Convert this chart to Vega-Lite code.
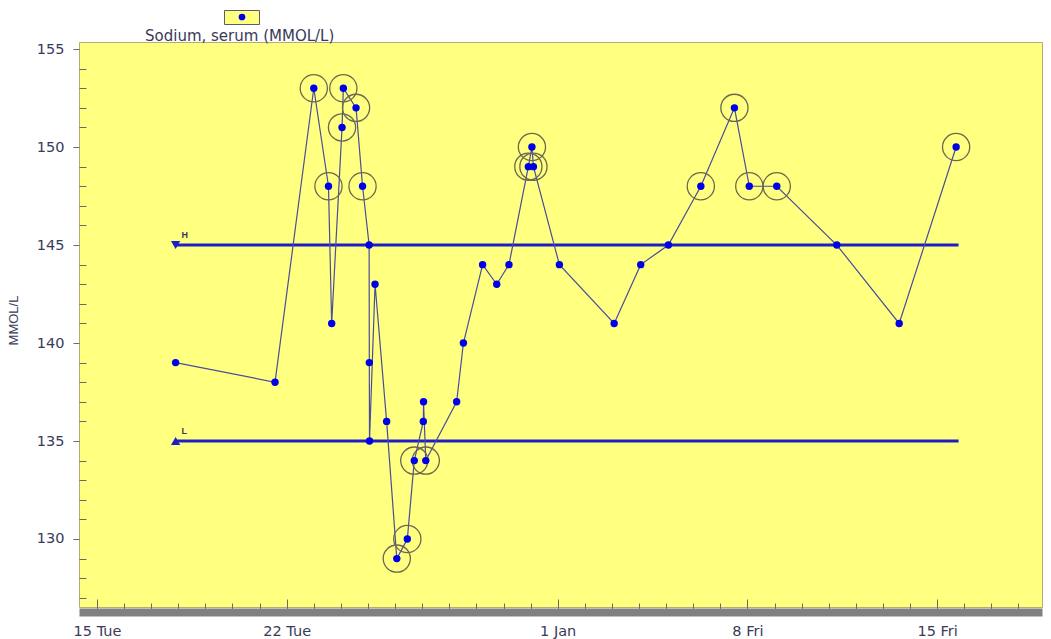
{
  "$schema": "https://vega.github.io/schema/vega-lite/v6.json",
  "autosize": {"type": "none"},
  "padding": {"left": 79, "top": 42, "right": 9, "bottom": 32},
  "width": 963,
  "height": 565,
  "background": "#ffffff",
  "config": {
    "font": "DejaVu Sans",
    "view": {"fill": "#ffff80", "stroke": "#b4ac74", "strokeWidth": 1}
  },
  "title": {
    "text": "Sodium, serum (MMOL/L)",
    "anchor": "start",
    "frame": "group",
    "dx": 66,
    "dy": 37,
    "offset": 3,
    "fontSize": 15,
    "fontWeight": "normal",
    "color": "#3a3a58",
    "font": "DejaVu Sans"
  },
  "datasets": {
    "sodium": [
      {"seq": 1, "t": "2009-12-17T21:36", "value": 139, "test": "Sodium, serum"},
      {"seq": 2, "t": "2009-12-21T13:40", "value": 138, "test": "Sodium, serum"},
      {"seq": 3, "t": "2009-12-23T00:00", "value": 153, "test": "Sodium, serum"},
      {"seq": 4, "t": "2009-12-23T13:00", "value": 148, "test": "Sodium, serum"},
      {"seq": 5, "t": "2009-12-23T15:50", "value": 141, "test": "Sodium, serum"},
      {"seq": 6, "t": "2009-12-24T01:00", "value": 151, "test": "Sodium, serum"},
      {"seq": 7, "t": "2009-12-24T02:10", "value": 153, "test": "Sodium, serum"},
      {"seq": 8, "t": "2009-12-24T13:25", "value": 152, "test": "Sodium, serum"},
      {"seq": 9, "t": "2009-12-24T19:10", "value": 148, "test": "Sodium, serum"},
      {"seq": 10, "t": "2009-12-25T01:00", "value": 145, "test": "Sodium, serum"},
      {"seq": 11, "t": "2009-12-25T01:10", "value": 139, "test": "Sodium, serum"},
      {"seq": 12, "t": "2009-12-25T01:20", "value": 135, "test": "Sodium, serum"},
      {"seq": 13, "t": "2009-12-25T06:15", "value": 143, "test": "Sodium, serum"},
      {"seq": 14, "t": "2009-12-25T16:30", "value": 136, "test": "Sodium, serum"},
      {"seq": 15, "t": "2009-12-26T01:30", "value": 129, "test": "Sodium, serum"},
      {"seq": 16, "t": "2009-12-26T10:50", "value": 130, "test": "Sodium, serum"},
      {"seq": 17, "t": "2009-12-26T17:00", "value": 134, "test": "Sodium, serum"},
      {"seq": 18, "t": "2009-12-27T01:00", "value": 136, "test": "Sodium, serum"},
      {"seq": 19, "t": "2009-12-27T01:10", "value": 137, "test": "Sodium, serum"},
      {"seq": 20, "t": "2009-12-27T03:10", "value": 134, "test": "Sodium, serum"},
      {"seq": 21, "t": "2009-12-28T06:30", "value": 137, "test": "Sodium, serum"},
      {"seq": 22, "t": "2009-12-28T12:30", "value": 140, "test": "Sodium, serum"},
      {"seq": 23, "t": "2009-12-29T05:30", "value": 144, "test": "Sodium, serum"},
      {"seq": 24, "t": "2009-12-29T18:00", "value": 143, "test": "Sodium, serum"},
      {"seq": 25, "t": "2009-12-30T04:50", "value": 144, "test": "Sodium, serum"},
      {"seq": 26, "t": "2009-12-30T22:00", "value": 149, "test": "Sodium, serum"},
      {"seq": 27, "t": "2009-12-31T01:10", "value": 150, "test": "Sodium, serum"},
      {"seq": 28, "t": "2009-12-31T02:30", "value": 149, "test": "Sodium, serum"},
      {"seq": 29, "t": "2010-01-01T01:30", "value": 144, "test": "Sodium, serum"},
      {"seq": 30, "t": "2010-01-03T02:00", "value": 141, "test": "Sodium, serum"},
      {"seq": 31, "t": "2010-01-04T01:30", "value": 144, "test": "Sodium, serum"},
      {"seq": 32, "t": "2010-01-05T02:00", "value": 145, "test": "Sodium, serum"},
      {"seq": 33, "t": "2010-01-06T06:45", "value": 148, "test": "Sodium, serum"},
      {"seq": 34, "t": "2010-01-07T12:30", "value": 152, "test": "Sodium, serum"},
      {"seq": 35, "t": "2010-01-08T01:40", "value": 148, "test": "Sodium, serum"},
      {"seq": 36, "t": "2010-01-09T02:00", "value": 148, "test": "Sodium, serum"},
      {"seq": 37, "t": "2010-01-11T07:10", "value": 145, "test": "Sodium, serum"},
      {"seq": 38, "t": "2010-01-13T14:25", "value": 141, "test": "Sodium, serum"},
      {"seq": 39, "t": "2010-01-15T16:50", "value": 150, "test": "Sodium, serum"}
    ],
    "limits": [
      {"limit": "H", "value": 145, "start": "2009-12-17T21:36", "end": "2010-01-15T19:00"},
      {"limit": "L", "value": 135, "start": "2009-12-17T21:36", "end": "2010-01-15T19:00"}
    ]
  },
  "encoding": {
    "x": {
      "field": "t",
      "type": "temporal",
      "title": null,
      "scale": {
        "domain": [
          {"year": 2009, "month": 12, "date": 14, "hours": 8, "minutes": 4},
          {"year": 2010, "month": 1, "date": 18, "hours": 20, "minutes": 53}
        ],
        "nice": false
      },
      "axis": {
        "tickCount": {"interval": "day", "step": 1},
        "labelExpr": "((month(datum.value)==11 && (date(datum.value)==15 || date(datum.value)==22)) || (month(datum.value)==0 && (date(datum.value)==8 || date(datum.value)==15))) ? timeFormat(datum.value, '%-d %a') : (month(datum.value)==0 && date(datum.value)==1) ? '1 Jan' : ''",
        "labelFlush": false,
        "labelOverlap": false,
        "labelFont": "DejaVu Sans",
        "labelFontSize": 14.5,
        "labelColor": "#3a3a58",
        "labelPadding": 25.5,
        "offset": 5,
        "domainColor": "#808080",
        "domainWidth": 8,
        "tickColor": "#6a6a6a",
        "tickWidth": 1,
        "tickSize": {
          "condition": {
            "test": "(month(datum.value)==11 && (date(datum.value)==15 || date(datum.value)==22)) || (month(datum.value)==0 && (date(datum.value)==1 || date(datum.value)==8 || date(datum.value)==15))",
            "value": -13
          },
          "value": -9
        },
        "grid": false
      }
    },
    "y": {
      "field": "value",
      "type": "quantitative",
      "title": "MMOL/L",
      "scale": {"domain": [126.53, 155.36], "nice": false, "zero": false},
      "axis": {
        "values": [127, 128, 129, 130, 131, 132, 133, 134, 135, 136, 137, 138, 139, 140, 141, 142, 143, 144, 145, 146, 147, 148, 149, 150, 151, 152, 153, 154, 155],
        "labelExpr": "datum.value % 5 == 0 ? datum.label : ''",
        "labelFont": "DejaVu Sans",
        "labelFontSize": 14.5,
        "labelColor": "#3a3a58",
        "labelPadding": 9,
        "domain": false,
        "tickColor": "#6a6a6a",
        "tickSize": {"condition": {"test": "datum.value % 5 == 0", "value": 6}, "value": -7},
        "grid": false,
        "titleFont": "Liberation Sans",
        "titleFontSize": 13,
        "titleFontWeight": "normal",
        "titleColor": "#3a3a58",
        "titleX": -66,
        "titleY": 278,
        "titleAlign": "center",
        "titleBaseline": "middle",
        "titleAngle": -90
      }
    }
  },
  "layer": [
    {
      "data": {"name": "limits"},
      "mark": {"type": "rule", "color": "#1e1ec8", "strokeWidth": 3},
      "encoding": {
        "x": {"field": "start", "type": "temporal"},
        "x2": {"field": "end"},
        "y": {"field": "value", "type": "quantitative"}
      }
    },
    {
      "data": {"name": "limits"},
      "mark": {"type": "point", "filled": true, "size": 85, "color": "#1e1ec8", "opacity": 1},
      "encoding": {
        "x": {"field": "start", "type": "temporal"},
        "y": {"field": "value", "type": "quantitative"},
        "shape": {"field": "limit", "type": "nominal", "scale": {"domain": ["H", "L"], "range": ["triangle-down", "triangle-up"]}, "legend": null}
      }
    },
    {
      "data": {"name": "limits"},
      "mark": {"type": "text", "dx": 6, "dy": -10, "align": "left", "fontSize": 9, "fontWeight": "bold", "color": "#3a3a58", "font": "Liberation Sans"},
      "encoding": {
        "x": {"field": "start", "type": "temporal"},
        "y": {"field": "value", "type": "quantitative"},
        "text": {"field": "limit"}
      }
    },
    {
      "data": {"name": "sodium"},
      "mark": {"type": "line", "color": "#4a4c9c", "strokeWidth": 1.2},
      "encoding": {
        "order": {"field": "seq", "type": "quantitative"}
      }
    },
    {
      "data": {"name": "sodium"},
      "transform": [{"filter": "datum.value > 145 || datum.value < 135"}],
      "mark": {"type": "point", "shape": "circle", "filled": false, "size": 740, "stroke": "#6c6850", "strokeWidth": 1.3, "opacity": 1}
    },
    {
      "data": {"name": "sodium"},
      "mark": {"type": "point", "shape": "circle", "filled": true, "size": 55, "opacity": 1},
      "encoding": {
        "color": {
          "field": "test",
          "type": "nominal",
          "scale": {"range": ["#0000e6"]},
          "legend": {
            "orient": "none",
            "legendX": 145,
            "legendY": -32,
            "title": null,
            "fillColor": "#ffff80",
            "strokeColor": "#5a5a70",
            "padding": 2,
            "symbolSize": 45,
            "symbolOffset": 11,
            "labelExpr": "'\u00a0\u00a0\u00a0\u00a0'",
            "labelFont": "Liberation Sans",
            "labelFontSize": 10,
            "labelOffset": 10,
            "labelLimit": 400,
            "symbolStrokeWidth": 0
          }
        }
      }
    }
  ]
}
